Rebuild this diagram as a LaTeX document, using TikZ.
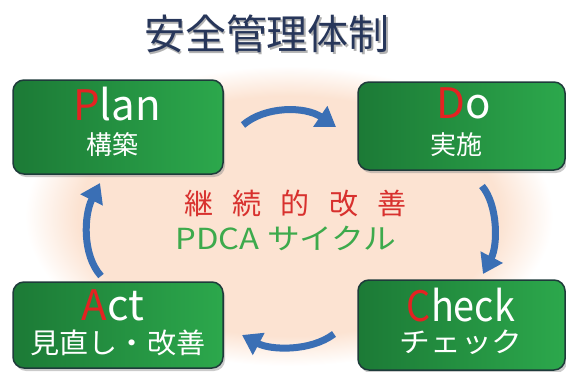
\documentclass[tikz,border=0pt]{standalone}
\usepackage{fontspec}
\setmainfont{Noto Sans CJK JP}
\usetikzlibrary{arrows.meta,shadows}
\definecolor{peach}{HTML}{FCE3D2}
\definecolor{gleft}{HTML}{1C7A36}
\definecolor{gright}{HTML}{2CA84C}
\definecolor{boxedge}{HTML}{1E3B3A}
\definecolor{arrowblue}{HTML}{3A6FB5}
\definecolor{titlenavy}{HTML}{27365A}
\definecolor{letterred}{HTML}{E42222}
\definecolor{kaizenred}{HTML}{D8312E}
\definecolor{pdcagreen}{HTML}{3DAA4C}
\pgfdeclareradialshading{peachshade}{\pgfpoint{0bp}{0bp}}{color(0bp)=(peach); color(20bp)=(peach); color(25bp)=(white); color(50bp)=(white)}
\tikzset{
  box/.style={draw=boxedge, line width=1.5pt, rounded corners=11pt,
    left color=gleft, right color=gright,
    drop shadow={shadow xshift=2pt, shadow yshift=-3pt, fill=black!45, opacity=0.45}},
  big/.style={font=\fontsize{42}{42}\selectfont, text=white, inner sep=0pt},
  sub/.style={font=\fontsize{26}{26}\selectfont, text=white, inner sep=0pt},
  cyc/.style={draw=arrowblue, line width=7pt, -{Triangle[length=19pt,width=24pt]}},
}
\begin{document}
\begin{tikzpicture}[x=1pt,y=-1pt]
\useasboundingbox (0,0) rectangle (566,372);
% background ellipse
\shade[shading=peachshade] (289,216) ellipse [x radius=264, y radius=150];
% title
\node[font=\fontsize{41}{41}\selectfont, text=black!30, inner sep=0pt] (titleshadow) at (268.5,35.5) {安全管理体制};
\node[font=\fontsize{41}{41}\selectfont, text=titlenavy, inner sep=0pt] (title) at (267,34) {安全管理体制};
% boxes
\node[box, minimum width=210pt, minimum height=94pt] (plan) at (118,127) {};
\node[box, minimum width=207pt, minimum height=88pt] (do) at (461.5,126) {};
\node[box, minimum width=210pt, minimum height=86pt] (act) at (118,325) {};
\node[box, minimum width=207pt, minimum height=90pt] (check) at (461.5,325) {};
% box texts
\node[big] (plant) at (117,104) {\textcolor{letterred}{P}lan};
\node[sub] (plans) at (112,145) {構築};
\node[big] (dot) at (464,103) {\textcolor{letterred}{D}o};
\node[sub] (dos) at (456,145) {実施};
\node[big] (actt) at (113,305) {\textcolor{letterred}{A}ct};
\node[sub, font=\fontsize{28}{28}\selectfont, xscale=1.04] (acts) at (118,343) {見直し・改善};
\node[big, xscale=0.9] (checkt) at (461,305) {\textcolor{letterred}{C}heck};
\node[sub, font=\fontsize{28}{28}\selectfont, xscale=1.1] (checks) at (461,342) {チェック};
% centre texts
\node[font=\fontsize{29}{29}\selectfont\addfontfeature{LetterSpace=66}, text=kaizenred, inner sep=0pt] (kaizen) at (295.5,203) {継続的改善};
\node[font=\fontsize{29}{29}\selectfont, text=pdcagreen, inner sep=0pt, xscale=1.13] (pdca) at (286,238) {PDCA サイクル};
% arrows
\coordinate (a1s) at (243,125);
\coordinate (a1e) at (336,127);
\coordinate (a2s) at (482,186);
\coordinate (a2e) at (483,274);
\coordinate (a3s) at (334,334);
\coordinate (a3e) at (242,335);
\coordinate (a4s) at (101,276);
\coordinate (a4e) at (100,183);
\draw[cyc] (a1s) .. controls (265,106) and (305,106) .. (a1e);
\draw[cyc] (a2s) .. controls (498,205) and (498,245) .. (a2e);
\draw[cyc] (a3s) .. controls (310,352) and (270,350) .. (a3e);
\draw[cyc] (a4s) .. controls (82,255) and (84,215) .. (a4e);
\end{tikzpicture}
\end{document}
